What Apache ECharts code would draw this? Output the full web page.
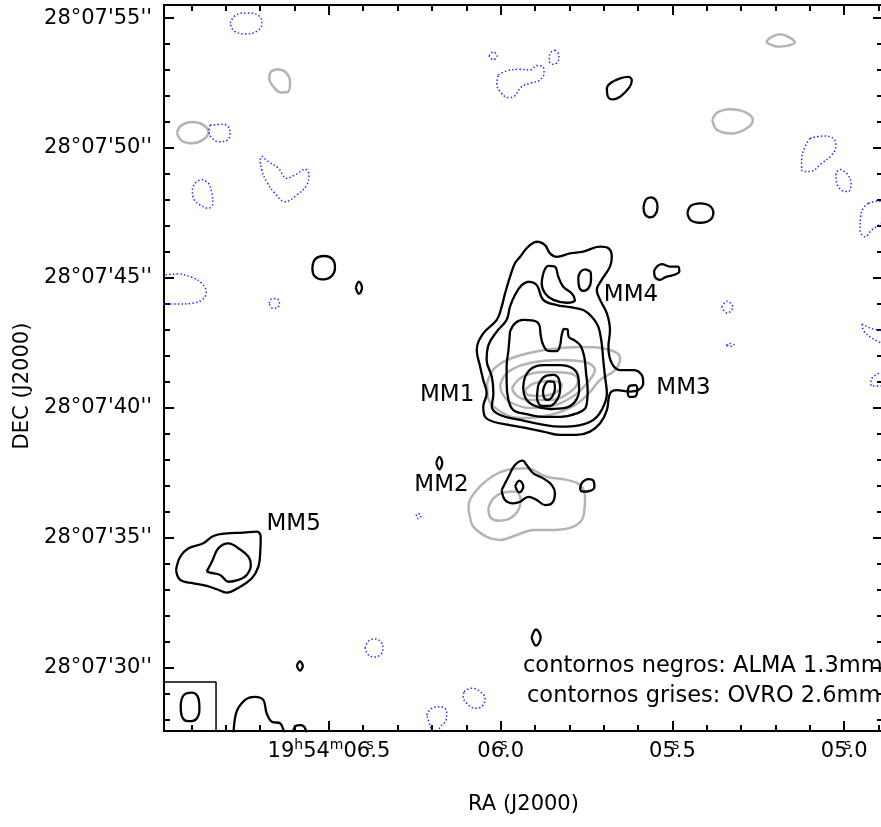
<!DOCTYPE html>
<html>
<head>
<meta charset="utf-8">
<title>ALMA 1.3mm / OVRO 2.6mm</title>
<script src="https://cdn.jsdelivr.net/npm/echarts@6/dist/echarts.min.js"></script>
<style>
    html, body { margin: 0; padding: 0; background: #fff; }
    #chart { width: 881px; height: 827px; }
</style>
</head>
<body>
<div id="chart"></div>
<script>
// posiciones: desplazamientos en arcsec [este, norte] respecto a 19h54m06.0s +28d07'40"
var RA_REF = 6.0;
var DEC_REF = 40.0;
var ARCSEC_PER_SEC = 13.228; // 15 * cos(dec)

var raExtent = [4.887, 6.980];
var decExtent = [27.553, 55.504];

var raTicks = [6.5, 6.0, 5.5, 5.0];
var raTickLabels = ['19{h|h}54{h|m}06{s|s}.5', '06{s|s}.0', '05{s|s}.5', '05{s|s}.0'];
var decTicks = [30, 35, 40, 45, 50, 55];
var decTickLabels = ["28°07'30''", "28°07'35''", "28°07'40''", "28°07'45''", "28°07'50''", "28°07'55''"];

// fuentes
var sourceNames = ['MM1', 'MM2', 'MM3', 'MM4', 'MM5'];
var sourceLabelPos = [[2.06, 0.49], [2.28, -2.98], [-7.04, 0.76], [-5.02, 4.32], [7.97, -4.48]];

// contornos negros (ALMA 1.3mm)
var mm1Lev1 = [[-1.45,6.39],[-1.71,6.26],[-1.90,5.94],[-2.16,5.81],[-2.67,5.94],[-3.18,6.01],[-3.83,6.20],[-4.15,6.14],[-4.28,5.81],[-4.21,5.43],[-3.89,4.92],[-3.70,4.53],[-3.83,4.15],[-4.09,3.63],[-4.21,2.99],[-4.15,2.35],[-4.28,1.71],[-4.60,1.45],[-5.11,1.45],[-5.43,1.26],[-5.49,0.94],[-5.30,0.68],[-4.98,0.62],[-4.47,0.68],[-4.21,0.55],[-4.09,-0.09],[-3.83,-0.60],[-3.44,-0.92],[-2.93,-1.05],[-2.29,-1.05],[-1.64,-0.92],[-1.00,-0.79],[-0.36,-0.67],[0.28,-0.54],[0.60,-0.35],[0.67,0.04],[0.54,0.55],[0.67,1.07],[0.79,1.58],[0.92,2.22],[0.67,2.86],[0.15,3.38],[-0.04,3.89],[-0.17,4.40],[-0.36,5.04],[-0.55,5.56],[-0.75,5.81],[-1.00,6.14],[-1.26,6.35]];
var mm1Lev2 = [[-1.07,4.85],[-1.39,4.72],[-1.64,4.15],[-2.16,3.95],[-2.67,3.87],[-3.18,3.76],[-3.51,3.50],[-3.76,3.12],[-3.89,2.48],[-3.95,1.84],[-4.02,1.19],[-4.09,0.55],[-3.89,-0.09],[-3.57,-0.47],[-3.06,-0.67],[-2.29,-0.73],[-1.52,-0.63],[-0.75,-0.47],[0.02,-0.28],[0.34,0.04],[0.28,0.55],[0.34,1.19],[0.54,1.84],[0.47,2.41],[0.15,2.93],[-0.23,3.38],[-0.36,3.89],[-0.55,4.34],[-0.81,4.72]];
var mm1Lev3 = [[-0.36,2.93],[-0.55,3.25],[-0.87,3.38],[-1.26,3.35],[-1.49,3.18],[-1.54,2.80],[-1.64,2.41],[-1.84,2.19],[-2.16,2.18],[-2.29,2.41],[-2.35,2.80],[-2.45,3.03],[-2.57,3.02],[-2.62,2.73],[-2.86,2.58],[-3.08,2.38],[-3.22,1.96],[-3.29,1.32],[-3.35,0.68],[-3.29,0.04],[-2.93,-0.22],[-2.29,-0.35],[-1.64,-0.35],[-1.00,-0.25],[-0.49,-0.09],[-0.30,0.30],[-0.23,0.94],[-0.23,1.58],[-0.30,2.22]];
var mm1Lev4 = [[-0.94,1.19],[-1.20,1.52],[-1.64,1.64],[-2.29,1.64],[-2.75,1.53],[-2.98,1.22],[-3.02,0.68],[-2.86,0.23],[-2.48,-0.01],[-1.90,-0.05],[-1.32,0.07],[-0.98,0.33],[-0.87,0.80]];
var mm1Lev5 = [[-1.44,0.84],[-1.67,1.18],[-2.02,1.26],[-2.25,1.07],[-2.29,0.68],[-2.17,0.30],[-1.90,0.07],[-1.59,0.07],[-1.40,0.37]];
var mm1Lev6 = [[-1.67,0.80],[-1.84,1.01],[-2.04,0.99],[-2.09,0.74],[-2.00,0.45],[-1.82,0.30],[-1.69,0.35],[-1.63,0.60]];
var mm3Peak = [[-4.89,0.60],[-4.98,0.85],[-5.19,0.87],[-5.26,0.68],[-5.16,0.43],[-4.96,0.42]];
var mm4Hole = [[-1.64,5.17],[-1.84,5.46],[-2.09,5.43],[-2.22,5.04],[-2.41,4.66],[-2.74,4.40],[-2.86,4.15],[-2.54,4.04],[-2.03,4.15],[-1.71,4.40],[-1.58,4.79]];
var mm4Peak = [[-3.25,5.33],[-3.47,5.20],[-3.48,4.92],[-3.38,4.60],[-3.18,4.50],[-3.02,4.66],[-2.99,4.98],[-3.08,5.24]];
var mm2Lev1 = [[-0.04,-3.17],[-0.30,-2.66],[-0.55,-2.21],[-0.85,-2.04],[-1.00,-2.21],[-1.26,-2.53],[-1.64,-2.72],[-1.97,-2.98],[-2.09,-3.30],[-1.97,-3.68],[-1.71,-3.75],[-1.39,-3.55],[-1.07,-3.43],[-0.75,-3.62],[-0.49,-3.68],[-0.17,-3.55]];
var mm2Lev2 = [[-0.56,-3.03],[-0.72,-2.81],[-0.87,-3.03],[-0.72,-3.26]];
var mm2East = [[2.48,-2.13],[2.36,-1.89],[2.25,-2.13],[2.36,-2.37]];
var mm2West = [[-3.06,-3.17],[-3.12,-2.91],[-3.38,-2.75],[-3.57,-2.81],[-3.61,-3.04],[-3.44,-3.20],[-3.18,-3.23]];
var mm5Lev1 = [[12.50,-6.25],[12.34,-5.74],[12.02,-5.41],[11.45,-5.22],[11.06,-4.94],[10.55,-4.84],[9.91,-4.81],[9.39,-4.77],[9.24,-4.97],[9.26,-5.61],[9.33,-6.12],[9.58,-6.57],[10.03,-6.89],[10.55,-7.12],[10.93,-6.99],[11.32,-6.86],[11.83,-6.76],[12.34,-6.63]];
var mm5Lev2 = [[11.32,-6.31],[11.12,-5.93],[10.87,-5.41],[10.48,-5.22],[10.10,-5.41],[9.71,-5.74],[9.62,-6.06],[9.78,-6.44],[10.10,-6.63],[10.48,-6.70],[10.80,-6.44],[11.19,-6.35]];
var blobNW1 = [[7.25,5.34],[7.15,5.71],[6.80,5.84],[6.45,5.69],[6.38,5.38],[6.53,5.05],[6.88,4.94],[7.17,5.07]];
var blobNW2 = [[5.58,4.62],[5.46,4.85],[5.34,4.62],[5.46,4.38]];
var blobN1 = [[-4.60,11.97],[-4.34,11.87],[-4.12,12.00],[-4.09,12.30],[-4.25,12.51],[-4.60,12.68],[-4.92,12.74],[-5.05,12.60],[-4.95,12.32]];
var blobN2 = [[-5.50,7.72],[-5.60,8.02],[-5.79,8.10],[-5.98,7.98],[-6.04,7.72],[-5.94,7.42],[-5.75,7.33],[-5.56,7.44]];
var blobN3 = [[-7.19,7.50],[-7.33,7.78],[-7.69,7.87],[-8.04,7.78],[-8.19,7.50],[-8.04,7.21],[-7.69,7.12],[-7.33,7.21]];
var blobMM4W = [[-6.01,5.43],[-6.20,5.53],[-6.52,5.43],[-6.84,5.43],[-6.88,5.24],[-6.65,5.11],[-6.33,5.02],[-6.14,4.92],[-5.94,5.04],[-5.91,5.24]];
var blobS1 = [[-1.19,-8.85],[-1.36,-8.54],[-1.54,-8.85],[-1.36,-9.16]];
var blobS2 = [[7.85,-9.94],[7.73,-9.77],[7.62,-9.94],[7.73,-10.12]];
var edgeS1 = [[10.29,-12.79],[10.19,-11.77],[9.84,-11.25],[9.46,-11.13],[9.14,-11.25],[9.01,-11.77],[8.81,-12.09],[8.49,-12.15],[8.30,-12.79]];
var edgeS2 = [[8.04,-12.79],[7.92,-12.28],[7.72,-12.22],[7.53,-12.34],[7.47,-12.79]];

// contornos grises (OVRO 2.6mm)
var ovroMM1a = [[0.52,0.95],[0.22,1.53],[-0.55,1.95],[-1.71,2.22],[-3.06,2.34],[-4.21,2.22],[-4.60,1.91],[-4.40,1.45],[-3.83,1.07],[-3.44,0.60],[-2.86,0.10],[-1.90,-0.28],[-0.75,-0.40],[0.10,-0.09],[0.49,0.41]];
var ovroMM1b = [[0.02,0.87],[-0.28,1.37],[-1.13,1.72],[-2.29,1.84],[-3.25,1.76],[-3.63,1.45],[-3.36,0.99],[-2.86,0.49],[-2.09,0.10],[-1.13,-0.01],[-0.36,0.22],[-0.05,0.57]];
var ovroMM1c = [[-0.44,0.76],[-0.82,1.18],[-1.71,1.37],[-2.59,1.34],[-2.98,1.07],[-2.67,0.60],[-1.90,0.30],[-1.05,0.30],[-0.59,0.49]];
var ovroMM1d = [[-0.94,0.68],[-1.32,0.95],[-1.98,1.03],[-2.36,0.87],[-2.09,0.57],[-1.52,0.45],[-1.05,0.49]];
var ovroMM2a = [[1.18,-4.20],[1.24,-3.81],[0.92,-3.17],[0.34,-2.66],[-0.23,-2.40],[-1.00,-2.33],[-1.77,-2.66],[-2.54,-2.78],[-3.06,-2.98],[-3.25,-3.43],[-3.18,-4.20],[-2.80,-4.58],[-2.03,-4.71],[-1.26,-4.71],[-0.62,-4.90],[0.02,-5.09],[0.54,-4.97],[1.05,-4.58]];
var ovroMM2b = [[0.47,-3.87],[0.28,-3.49],[-0.10,-3.27],[-0.55,-3.23],[-0.77,-3.55],[-0.68,-3.94],[-0.36,-4.26],[0.09,-4.35],[0.41,-4.20]];
var ovroNW1 = [[8.54,13.03],[8.26,12.90],[8.11,12.55],[8.17,12.17],[8.47,12.14],[8.75,12.36],[8.91,12.68],[8.84,12.94]];
var ovroNW2 = [[12.47,10.59],[12.28,10.88],[11.87,11.00],[11.47,10.90],[11.25,10.60],[11.47,10.31],[11.87,10.18],[12.28,10.28]];
var ovroNE1 = [[-8.15,11.08],[-8.34,11.36],[-8.83,11.49],[-9.41,11.38],[-9.71,11.08],[-9.48,10.76],[-8.90,10.56],[-8.34,10.69]];
var ovroNE2 = [[-10.22,14.09],[-10.44,14.28],[-10.76,14.38],[-11.08,14.28],[-11.33,14.07],[-11.02,13.93],[-10.69,13.90],[-10.37,13.99]];

// contornos negativos (punteados)
var negA = [[10.42,14.81],[10.19,15.12],[9.76,15.20],[9.30,15.08],[9.19,14.77],[9.38,14.50],[9.80,14.39],[10.26,14.50]];
var negB = [[11.19,10.88],[10.68,10.91],[10.45,10.76],[10.42,10.50],[10.57,10.27],[10.87,10.24],[11.16,10.43],[11.23,10.66]];
var negC = [[9.20,9.69],[8.94,9.47],[8.56,9.22],[8.24,8.83],[7.92,8.96],[7.53,9.18],[7.38,8.96],[7.47,8.57],[7.85,8.19],[8.30,7.93],[8.69,8.25],[9.01,8.70],[9.20,9.15],[9.26,9.54]];
var negD = [[11.51,8.79],[11.25,8.64],[11.12,8.25],[11.08,7.87],[11.25,7.68],[11.57,7.80],[11.83,8.06],[11.87,8.38],[11.73,8.68]];
var negE = [[13.19,5.07],[12.47,5.15],[11.89,5.02],[11.51,4.79],[11.34,4.47],[11.47,4.17],[11.89,4.02],[12.47,3.99],[13.19,4.03]];
var negF = [[8.91,4.02],[8.82,4.19],[8.63,4.20],[8.52,4.02],[8.63,3.83],[8.82,3.85]];
var negG = [[0.45,13.55],[0.29,13.70],[0.14,13.55],[0.29,13.39]];
var negH = [[0.09,12.81],[-0.23,12.97],[-0.75,13.03],[-1.13,13.00],[-1.39,13.17],[-1.62,13.13],[-1.67,12.90],[-1.52,12.62],[-1.13,12.49],[-0.81,12.36],[-0.49,11.97],[-0.30,11.94],[0.02,12.17],[0.15,12.49]];
var negI = [[-2.09,13.77],[-2.24,13.58],[-2.22,13.35],[-2.03,13.22],[-1.87,13.35],[-1.90,13.64]];
var negJ = [[-11.91,10.37],[-12.42,10.46],[-12.81,10.37],[-12.91,10.08],[-12.75,9.73],[-12.36,9.41],[-11.91,9.09],[-11.59,9.15],[-11.59,9.54],[-11.72,10.05]];
var negK = [[-13.07,9.18],[-13.33,9.02],[-13.49,8.64],[-13.39,8.32],[-13.17,8.35],[-12.94,8.66],[-12.91,9.02]];
var negL = [[-14.16,7.87],[-14.54,7.96],[-14.84,7.69],[-14.76,7.23],[-14.29,6.84],[-14.03,6.58],[-13.84,6.84],[-13.86,7.35],[-13.96,7.68]];
var negM = [[-8.51,3.87],[-8.72,4.10],[-8.94,3.87],[-8.72,3.64]];
var negN = [[-8.68,2.41],[-8.83,2.47],[-8.99,2.41],[-8.83,2.36]];
var negO = [[-13.91,3.22],[-14.22,3.07],[-14.84,2.84],[-14.84,2.41],[-14.30,2.68],[-13.99,2.95]];
var negP = [[-14.84,1.41],[-14.45,1.26],[-14.26,1.03],[-14.26,0.84],[-14.84,0.84]];
var negQ = [[3.26,-4.17],[3.17,-4.07],[3.07,-4.17],[3.17,-4.27]];
var negR = [[5.22,-9.25],[5.11,-9.00],[4.87,-8.90],[4.62,-9.00],[4.53,-9.25],[4.62,-9.50],[4.87,-9.60],[5.11,-9.50]];
var negS = [[1.41,-10.93],[1.11,-10.80],[0.79,-10.93],[0.60,-11.19],[0.73,-11.51],[0.99,-11.57],[1.31,-11.38],[1.44,-11.13]];
var negT = [[2.85,-11.83],[2.65,-11.57],[2.33,-11.51],[2.08,-11.70],[2.10,-12.02],[2.33,-12.29],[2.45,-12.60],[2.56,-12.60],[2.72,-12.22]];

// haz (beam)
var beamBox = [[13.2,-10.56],[10.96,-10.56],[10.96,-12.6]];
var beamEllipse = [[12.32,-11.52],[12.23,-11.10],[11.90,-10.97],[11.63,-11.22],[11.60,-11.52],[11.69,-11.95],[12.02,-12.07],[12.29,-11.83]];

var almaClosed = [mm1Lev1, mm1Lev2, mm1Lev3, mm1Lev4, mm1Lev5, mm1Lev6, mm3Peak, mm4Hole, mm4Peak,
    mm2Lev1, mm2Lev2, mm2East, mm2West, mm5Lev1, mm5Lev2, blobNW1, blobNW2, blobN1, blobN2, blobN3,
    blobMM4W, blobS1, blobS2];
var almaOpen = [edgeS1, edgeS2];
var ovroClosed = [ovroMM1a, ovroMM1b, ovroMM1c, ovroMM1d, ovroMM2a, ovroMM2b, ovroNW1, ovroNW2, ovroNE1, ovroNE2];
var negClosed = [negA, negB, negC, negD, negE, negF, negG, negH, negI, negJ, negK, negL, negM, negN, negO, negP, negQ, negR, negS, negT];

var FONT = 'DejaVu Sans';

function toRaDec(pts) {
    return pts.map(function(p) {
        return [RA_REF + p[0] / ARCSEC_PER_SEC, DEC_REF + p[1]];
    });
}

function lineSeries(pts, closed, lineStyle, smooth) {
    var d = toRaDec(pts);
    if (closed) d.push(d[0]);
    return {
        type: 'line',
        data: d,
        symbol: 'none',
        smooth: smooth,
        silent: true,
        clip: true,
        lineStyle: lineStyle
    };
}

var grayStyle = { color: '#b4b4b4', width: 2.5 };
var blackStyle = { color: '#000', width: 2.3 };
var blueStyle = { color: '#2a2aff', width: 1.5, type: [1.5, 2.2] };

var series = [];
ovroClosed.forEach(function(c) { series.push(lineSeries(c, true, grayStyle, 0.4)); });
negClosed.forEach(function(c) { series.push(lineSeries(c, true, blueStyle, 0.4)); });
almaClosed.forEach(function(c) { series.push(lineSeries(c, true, blackStyle, 0.4)); });
almaOpen.forEach(function(c) { series.push(lineSeries(c, false, blackStyle, 0.4)); });
series.push(lineSeries(beamBox, false, { color: '#000', width: 1.5 }, false));
series.push(lineSeries(beamEllipse, true, blackStyle, 0.5));

series.push({
    type: 'scatter',
    symbolSize: 0,
    silent: true,
    itemStyle: { opacity: 1 },
    data: sourceLabelPos.map(function(p, i) {
        var q = toRaDec([p])[0];
        return { value: [q[0], q[1]], name: sourceNames[i] };
    }),
    label: {
        show: true,
        position: 'inside',
        formatter: '{b}',
        color: '#000',
        opacity: 1,
        fontFamily: FONT,
        fontSize: 23
    }
});

function lookup(values, labels, v) {
    for (var i = 0; i < values.length; i++) {
        if (Math.abs(values[i] - v) < 1e-6) return labels[i];
    }
    return '';
}

function frameAxis(extra) {
    var base = {
        type: 'value',
        scale: true,
        splitLine: { show: false },
        axisLine: { show: true, onZero: false, lineStyle: { color: '#000', width: 2 } },
        axisTick: { show: true, inside: true, length: 10, lineStyle: { color: '#000', width: 2 } },
        minorTick: { show: true, splitNumber: 5, length: 6, lineStyle: { color: '#000', width: 2 } },
        axisLabel: { show: false }
    };
    return Object.assign(base, extra);
}

var chart = echarts.init(document.getElementById('chart'));
chart.setOption({
    animation: false,
    backgroundColor: '#fff',
    textStyle: { fontFamily: FONT },
    grid: { left: 164, top: 5, right: -2, bottom: 96, outerBoundsMode: 'none', containLabel: false },
    xAxis: [
        frameAxis({
            position: 'bottom',
            inverse: true,
            min: raExtent[0],
            max: raExtent[1],
            name: 'RA (J2000)',
            nameLocation: 'middle',
            nameGap: 63,
            nameTextStyle: { color: '#000', fontFamily: FONT, fontSize: 21 },
            axisLabel: {
                show: true,
                margin: 7,
                color: '#000',
                fontFamily: FONT,
                fontSize: 21,
                lineHeight: 28,
                formatter: function(v) { return lookup(raTicks, raTickLabels, v); },
                rich: {
                    h: { fontSize: 14, lineHeight: 14, fontFamily: FONT, color: '#000', verticalAlign: 'top' },
                    s: { fontSize: 14, lineHeight: 14, fontFamily: FONT, color: '#000', verticalAlign: 'top', width: 0 }
                }
            }
        }),
        frameAxis({ position: 'top', inverse: true, min: raExtent[0], max: raExtent[1] })
    ],
    yAxis: [
        frameAxis({
            position: 'left',
            min: decExtent[0],
            max: decExtent[1],
            name: 'DEC (J2000)',
            nameLocation: 'middle',
            nameGap: 130,
            nameTextStyle: { color: '#000', fontFamily: FONT, fontSize: 21, padding: [0, 36, 0, 0] },
            axisLabel: {
                show: true,
                margin: 12,
                color: '#000',
                fontFamily: FONT,
                fontSize: 21,
                formatter: function(v) { return lookup(decTicks, decTickLabels, v); }
            }
        }),
        frameAxis({ position: 'right', min: decExtent[0], max: decExtent[1] })
    ],
    graphic: [
        { type: 'text', left: 523, top: 655, silent: true,
          style: { text: 'contornos negros: ALMA 1.3mm', fill: '#000', font: '22.5px "DejaVu Sans"' } },
        { type: 'text', left: 527, top: 685, silent: true,
          style: { text: 'contornos grises: OVRO 2.6mm', fill: '#000', font: '22.5px "DejaVu Sans"' } }
    ],
    series: series
});

window.onresize = function() {
    chart.resize();
};
</script>
</body>
</html>
